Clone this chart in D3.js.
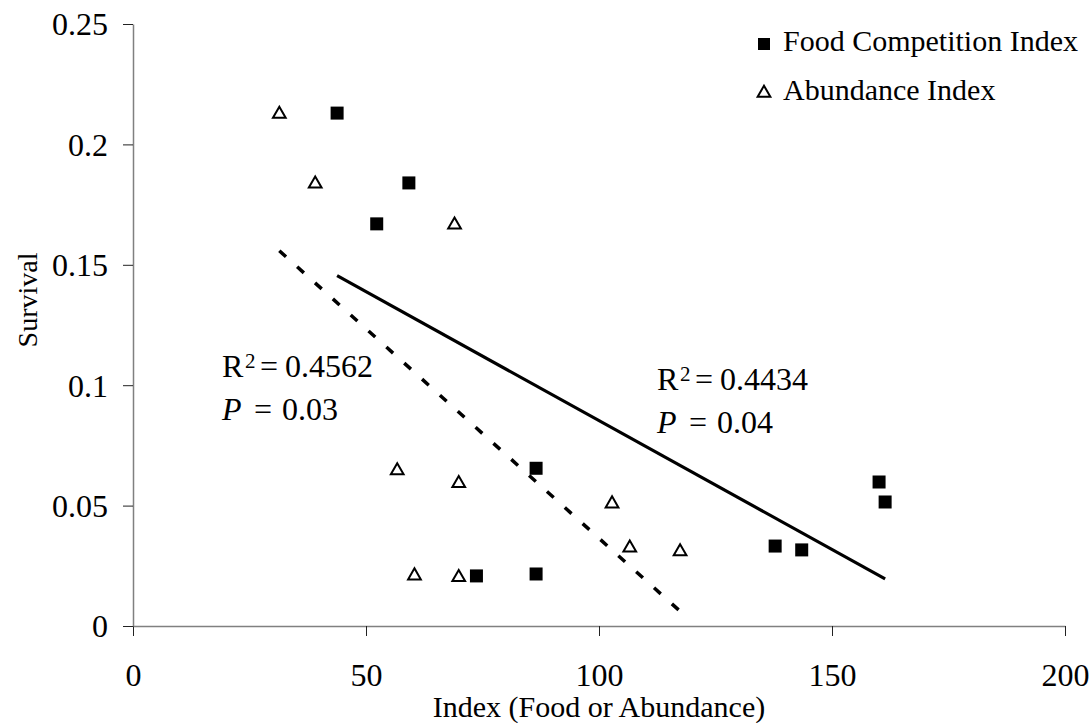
<!DOCTYPE html>
<html>
<head>
<meta charset="utf-8">
<script src="https://cdn.jsdelivr.net/npm/d3@7"></script>
<style>
  html, body { margin: 0; padding: 0; background: #fff; }
  svg { display: block; font-family: "Liberation Serif", "Times New Roman", serif; }
  svg text { font-family: "Liberation Serif", "Times New Roman", serif; fill: #000; }
</style>
</head>
<body>
<svg id="chart" width="1092" height="723"></svg>
<script>
// Food Competition Index vs survival
const foodIndex    = [43.8, 59.2, 52.3, 86.5, 73.7, 86.5, 137.8, 143.5, 160.1, 161.4];
const foodSurvival = [0.213, 0.184, 0.167, 0.0655, 0.0208, 0.0216, 0.0332, 0.0316, 0.0598, 0.0515];

// Abundance Index vs survival
const abundIndex    = [31.4, 39.1, 69.0, 56.7, 69.9, 60.4, 69.9, 102.8, 106.6, 117.4];
const abundSurvival = [0.213, 0.184, 0.167, 0.065, 0.0597, 0.0213, 0.0206, 0.0512, 0.0329, 0.0313];

const xTicks = [0, 50, 100, 150, 200];
const yTicks = [0, 0.05, 0.1, 0.15, 0.2, 0.25];

const seriesNames = ["Food Competition Index", "Abundance Index"];
const fitLabels = [
  { r2: "0.4434", p: "0.04" },   // food
  { r2: "0.4562", p: "0.03" }    // abundance
];

const svg = d3.select("#chart");
const margin = { left: 133, right: 27, top: 24, bottom: 97 };
const W = 1092, H = 723;

const x = d3.scaleLinear().domain([0, 200]).range([margin.left, W - margin.right]);
const y = d3.scaleLinear().domain([0, 0.25]).range([H - margin.bottom, margin.top]);

// Axes
const xAxis = svg.append("g")
  .attr("transform", `translate(0,${y(0)})`)
  .call(d3.axisBottom(x).tickValues(xTicks).tickFormat(d3.format("d")).tickSize(10).tickSizeOuter(0));
const yAxis = svg.append("g")
  .attr("transform", `translate(${x(0)},0)`)
  .call(d3.axisLeft(y).tickValues(yTicks).tickFormat(d => d === 0 ? "0" : String(d)).tickSize(10).tickSizeOuter(0).tickPadding(15));

[xAxis, yAxis].forEach(g => {
  g.attr("font-family", null).attr("font-size", null);
  g.select(".domain").attr("stroke", "#808080").attr("stroke-width", 1.5);
  g.selectAll(".tick line").attr("stroke", "#222").attr("stroke-width", 1);
  g.selectAll(".tick text").style("font-size", "32px");
});
xAxis.selectAll(".tick text").attr("y", 60).attr("dy", null);
yAxis.selectAll(".tick text").attr("dy", "0.34em");

// Axis titles
svg.append("text")
  .attr("x", (x(0) + x(200)) / 2).attr("y", 717)
  .attr("text-anchor", "middle").style("font-size", "30px")
  .text("Index (Food or Abundance)");
svg.append("text")
  .attr("transform", `translate(37,300) rotate(-90)`)
  .attr("text-anchor", "middle").style("font-size", "28px")
  .text("Survival");

// Least-squares trend line across the data range
function fit(xs, ys) {
  const mx = d3.mean(xs), my = d3.mean(ys);
  let sxy = 0, sxx = 0;
  xs.forEach((v, i) => { sxy += (v - mx) * (ys[i] - my); sxx += (v - mx) ** 2; });
  const b = sxy / sxx, a = my - b * mx;
  const [x0, x1] = d3.extent(xs);
  return [[x0, a + b * x0], [x1, a + b * x1]];
}
const line = d3.line().x(d => x(d[0])).y(d => y(d[1]));

svg.append("path")
  .attr("d", line(fit(abundIndex, abundSurvival)))
  .attr("fill", "none").attr("stroke", "#000").attr("stroke-width", 3.5)
  .attr("stroke-dasharray", "9,15");

svg.append("path")
  .attr("d", line(fit(foodIndex, foodSurvival)))
  .attr("fill", "none").attr("stroke", "#000").attr("stroke-width", 3.2);

// Markers
const sq = 13;
svg.append("g").selectAll("rect")
  .data(d3.zip(foodIndex, foodSurvival))
  .join("rect")
  .attr("x", d => x(d[0]) - sq / 2).attr("y", d => y(d[1]) - sq / 2)
  .attr("width", sq).attr("height", sq).attr("fill", "#000");

const tri = d3.symbol().type(d3.symbolTriangle).size(70);
svg.append("g").selectAll("path")
  .data(d3.zip(abundIndex, abundSurvival))
  .join("path")
  .attr("d", tri)
  .attr("transform", d => `translate(${x(d[0])},${y(d[1]) + 1})`)
  .attr("fill", "#fff").attr("stroke", "#000").attr("stroke-width", 2);

// Legend
const legend = svg.append("g").style("font-size", "30px");
legend.append("rect").attr("x", 758).attr("y", 38).attr("width", 12).attr("height", 12).attr("fill", "#000");
legend.append("text").attr("x", 783).attr("y", 51).text(seriesNames[0]);
legend.append("path").attr("d", tri).attr("transform", "translate(764,93)")
  .attr("fill", "#fff").attr("stroke", "#000").attr("stroke-width", 2);
legend.append("text").attr("x", 783).attr("y", 100).text(seriesNames[1]);

// Fit statistics
function stats(px, py, s) {
  const g = svg.append("g").style("font-size", "32px");
  g.append("text").attr("x", px).attr("y", py).text("R");
  g.append("text").attr("x", px + 23).attr("y", py - 9).style("font-size", "21px").text("2");
  g.append("text").attr("x", px + 38).attr("y", py).text("=");
  g.append("text").attr("x", px + 63).attr("y", py).text(s.r2);
  g.append("text").attr("x", px).attr("y", py + 43).style("font-style", "italic").text("P");
  g.append("text").attr("x", px + 32).attr("y", py + 43).text("=");
  g.append("text").attr("x", px + 60).attr("y", py + 43).text(s.p);
}
stats(222, 377, fitLabels[1]);
stats(657, 390, fitLabels[0]);
</script>
</body>
</html>
